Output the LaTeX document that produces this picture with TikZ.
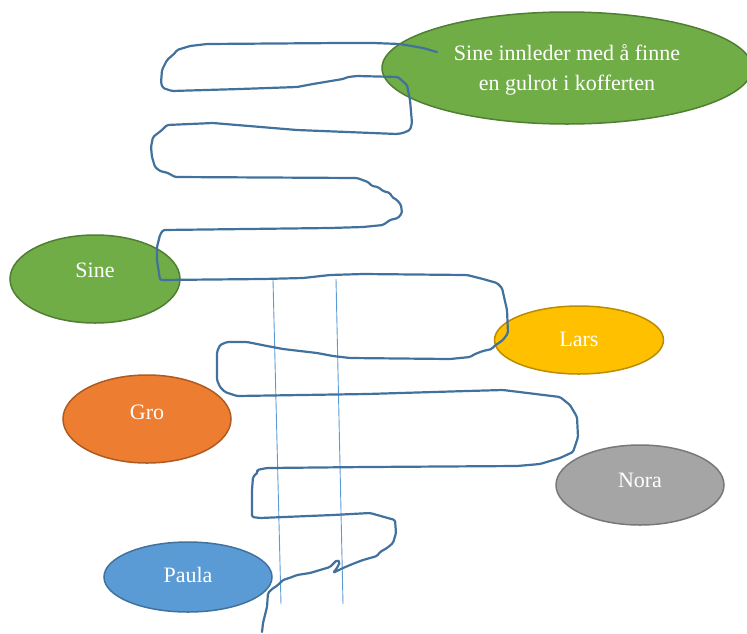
\documentclass[tikz,border=0pt]{standalone}
\usepackage{fontspec}
\setmainfont{Liberation Serif}
\usetikzlibrary{shapes.geometric}
\definecolor{gfill}{HTML}{70AD47}\definecolor{gline}{HTML}{507E32}
\definecolor{yfill}{HTML}{FFC000}\definecolor{yline}{HTML}{BC8C00}
\definecolor{ofill}{HTML}{ED7D31}\definecolor{oline}{HTML}{AE5A21}
\definecolor{sfill}{HTML}{A5A5A5}\definecolor{sline}{HTML}{787878}
\definecolor{bfill}{HTML}{5B9BD5}\definecolor{bline}{HTML}{41719C}
\definecolor{pen}{HTML}{41719C}
\definecolor{rule}{HTML}{5B9BD5}
\tikzset{
  person/.style={ellipse, line width=1.5pt, inner sep=0pt},
  whotext/.style={text=white, font=\fontsize{22}{30}\selectfont, align=center, inner sep=0pt},
  scribble/.style={draw=pen, line width=2.2pt, line join=round, line cap=round, rounded corners=1.5pt},
  guide/.style={draw=rule, line width=0.9pt}
}
\begin{document}
\begin{tikzpicture}[x=1pt,y=-1pt]
\useasboundingbox (0,0) rectangle (747,633);
\clip (0,0) rectangle (747,633);

% persons
\node[person, fill=gfill, draw=gline, minimum width=370, minimum height=112,
  label={[whotext, yshift=-1.5pt]center:{Sine innleder med å finne\\en gulrot i kofferten}}] (start) at (567,68) {};
\node[person, fill=gfill, draw=gline, minimum width=170, minimum height=88,
  label={[whotext, yshift=9pt]center:Sine}] (sine) at (95,279) {};
\node[person, fill=yfill, draw=yline, minimum width=169, minimum height=68,
  label={[whotext, yshift=1pt]center:Lars}] (lars) at (579,340) {};
\node[person, fill=ofill, draw=oline, minimum width=168, minimum height=88,
  label={[whotext, yshift=7pt]center:Gro}] (gro) at (147,419) {};
\node[person, fill=sfill, draw=sline, minimum width=168, minimum height=80,
  label={[whotext, yshift=5pt]center:Nora}] (nora) at (640,485) {};
\node[person, fill=bfill, draw=bline, minimum width=168, minimum height=70,
  label={[whotext, yshift=2pt]center:Paula}] (paula) at (188,577) {};

% two thin vertical guides
\coordinate (g1a) at (273,280); \coordinate (g1b) at (281,604);
\coordinate (g2a) at (336,279); \coordinate (g2b) at (343,604);
\draw[guide] (g1a) -- (g1b);
\draw[guide] (g2a) -- (g2b);

% free-hand line winding past everyone
\draw[scribble] (437,52) -- (423,48) -- (400,44) -- (373,43) -- (340,43) -- (207,44) -- (190,46) -- (177,50)
  -- (175,53) -- (167,60) -- (162,70) -- (161,83) -- (163,88) -- (172,91) -- (240,89) -- (297,87)
  -- (313,84) -- (343,79) -- (348,77) -- (357,76) -- (398,77) -- (407,85) -- (410,100) -- (412,123)
  -- (410,130) -- (403,133) -- (397,134) -- (297,130) -- (213,123) -- (167,125) -- (162,130)
  -- (153,137) -- (151,147) -- (152,157) -- (155,167) -- (160,171) -- (168,173) -- (175,177)
  -- (357,178) -- (368,182) -- (372,186) -- (378,187) -- (383,191) -- (390,193) -- (392,197)
  -- (397,200) -- (401,205) -- (402,213) -- (398,218) -- (390,220) -- (383,225) -- (363,227)
  -- (330,228) -- (163,230) -- (160,235) -- (157,247) -- (157,260) -- (160,280) -- (263,279)
  -- (303,278) -- (330,275) -- (363,274) -- (467,275) -- (483,279) -- (497,283) -- (502,288)
  -- (507,310) -- (508,333) -- (503,340) -- (493,347) -- (492,349) -- (483,351) -- (475,354)
  -- (470,357) -- (450,359) -- (350,358) -- (333,356) -- (317,353) -- (283,349) -- (267,346)
  -- (247,342) -- (227,342) -- (220,345) -- (217,352) -- (217,380) -- (220,387) -- (225,392)
  -- (237,396) -- (367,394) -- (467,391) -- (503,390) -- (560,397) -- (570,405) -- (577,417)
  -- (578,437) -- (573,452) -- (560,458) -- (540,464) -- (517,466) -- (367,467) -- (267,468)
  -- (262,469) -- (257,470) -- (258,472) -- (253,477) -- (252,490) -- (252,517) -- (260,518)
  -- (333,515) -- (370,513) -- (395,520) -- (396,533) -- (393,543) -- (387,548) -- (380,552)
  -- (377,556) -- (363,560) -- (355,563) -- (343,568) -- (333,573) -- (337,568) -- (340,562)
  -- (337,560) -- (330,567) -- (310,573) -- (297,575) -- (292,577) -- (283,580) -- (278,585)
  -- (272,589) -- (268,593) -- (267,607) -- (263,623) -- (262,632);
\end{tikzpicture}
\end{document}
